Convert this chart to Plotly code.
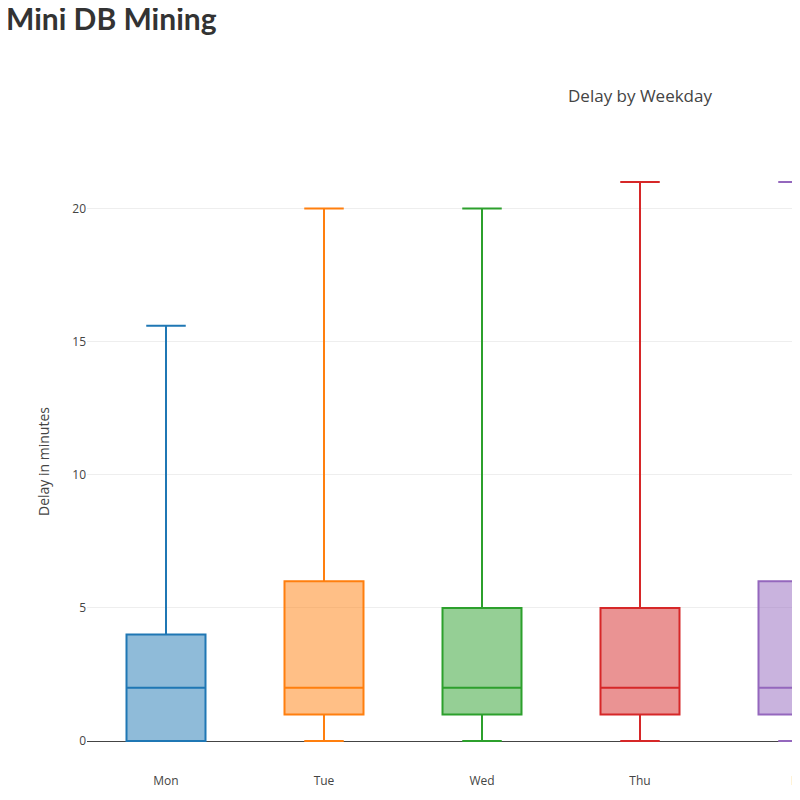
import plotly.graph_objects as go

days = ["Mon", "Tue", "Wed", "Thu", "Fri", "Sat", "Sun"]
lower = [0, 0, 0, 0, 0, 0, 0]
q1 = [0, 1, 1, 1, 1, 1, 1]
median = [2, 2, 2, 2, 2, 2, 2]
q3 = [4, 6, 5, 5, 6, 5, 5]
upper = [15.6, 20, 20, 21, 21, 20, 20]
colors = ["#1f77b4", "#ff7f0e", "#2ca02c", "#d62728", "#9467bd", "#8c564b", "#e377c2"]

W, H = 1264, 792
L, R, T, B = 79, 79, 146, 31
pw, ph = W - L - R, H - T - B

fig = go.Figure()
for i, d in enumerate(days):
    fig.add_trace(go.Box(
        x=[d], q1=[q1[i]], median=[median[i]], q3=[q3[i]],
        lowerfence=[lower[i]], upperfence=[upper[i]],
        name=d, marker_color=colors[i], line=dict(color=colors[i], width=2),
        width=0.5, whiskerwidth=0.5, showlegend=False,
    ))

fig.update_layout(
    template="none",
    width=W, height=H,
    margin=dict(l=L, r=R, t=T, b=B, autoexpand=False),
    font=dict(family="Open Sans", color="#444", size=12),
    title=dict(text="Delay by Weekday", x=0.5, xanchor="center", y=1 - 88 / H,
               yanchor="middle", font=dict(size=17)),
    xaxis=dict(categoryorder="array", categoryarray=days, range=[-0.5, len(days) - 0.5],
               showgrid=False, zeroline=False, showline=False, ticks="", automargin=False,
               ticklabelstandoff=3),
    yaxis=dict(range=[-1.05, 22.05], title=dict(text="Delay in minutes", font=dict(size=14)),
               gridcolor="#eee", zeroline=True, zerolinecolor="#444", zerolinewidth=1,
               tickvals=[0, 5, 10, 15, 20], showline=False, ticks="", automargin=False),
    plot_bgcolor="white", paper_bgcolor="white",
    annotations=[dict(text="<b>Mini DB Mining</b>", xref="paper", yref="paper",
                      x=(-4 - L) / pw, y=(ph + T + 10) / ph, xanchor="left", yanchor="top",
                      showarrow=False, font=dict(family="Lato", size=30, color="#333"))],
)

fig.write_html("out.html")
